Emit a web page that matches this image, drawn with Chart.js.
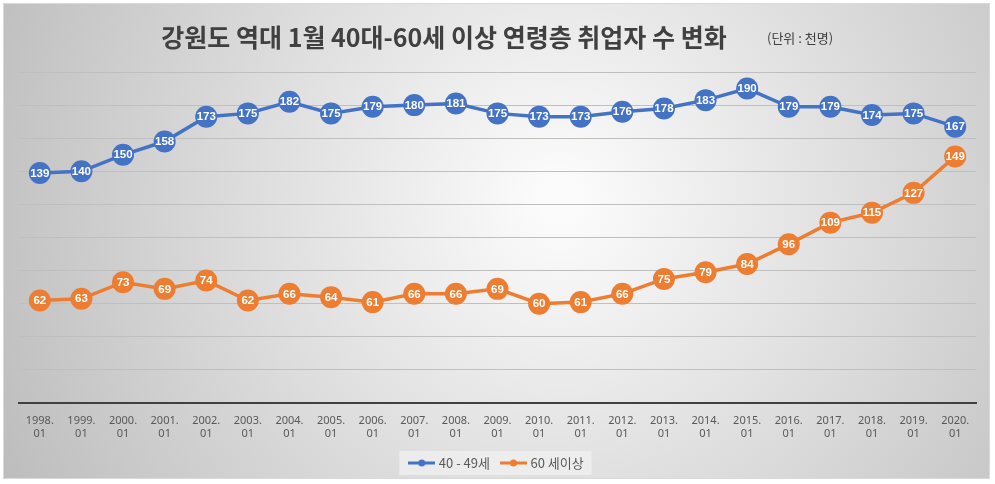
<!DOCTYPE html>
<html>
<head>
<meta charset="utf-8">
<script src="https://cdn.jsdelivr.net/npm/chart.js@4.4.1/dist/chart.umd.min.js"></script>
<style>
    html, body { margin: 0; padding: 0; background: #ffffff; }
    #wrap { width: 995px; height: 484px; }
</style>
</head>
<body>
<div id="wrap"><canvas id="chart"></canvas></div>
<script>
const years = ["1998", "1999", "2000", "2001", "2002", "2003", "2004", "2005", "2006", "2007", "2008", "2009",
    "2010", "2011", "2012", "2013", "2014", "2015", "2016", "2017", "2018", "2019", "2020"];
const age40s = [139, 140, 150, 158, 173, 175, 182, 175, 179, 180, 181, 175, 173, 173, 176, 178, 183, 190, 179, 179, 174, 175, 167];
const age60plus = [62, 63, 73, 69, 74, 62, 66, 64, 61, 66, 66, 69, 60, 61, 66, 75, 79, 84, 96, 109, 115, 127, 149];
const seriesNames = ["40 - 49세", "60 세이상"];
const titleText = "강원도 역대 1월 40대-60세 이상 연령층 취업자 수 변화";
const unitText = "(단위 : 천명)";

const BLUE = "#4472C4";
const ORANGE = "#ED7D31";

// legend symbol: short line with a dot
function legendIcon(color) {
    const c = document.createElement("canvas");
    c.width = 27;
    c.height = 10;
    const g = c.getContext("2d");
    g.strokeStyle = color;
    g.lineWidth = 3;
    g.beginPath();
    g.moveTo(0, 5);
    g.lineTo(27, 5);
    g.stroke();
    g.fillStyle = color;
    g.beginPath();
    g.arc(13.5, 5, 3.5, 0, Math.PI * 2);
    g.fill();
    return c;
}

const backgroundPlugin = {
    id: "bg",
    beforeDraw(chart) {
        const ctx = chart.ctx;
        ctx.save();
        ctx.fillStyle = "#ffffff";
        ctx.fillRect(0, 0, chart.width, chart.height);
        const grad = ctx.createRadialGradient(560, 200, 20, 560, 200, 620);
        grad.addColorStop(0, "#fbfbfb");
        grad.addColorStop(1, "#bdbdbd");
        ctx.fillStyle = grad;
        ctx.fillRect(3, 3, 987, 476);
        ctx.strokeStyle = "#d9d9d9";
        ctx.lineWidth = 1;
        ctx.strokeRect(3.5, 3.5, 986, 475);

        // title
        ctx.fillStyle = "#404040";
        ctx.textBaseline = "middle";
        ctx.textAlign = "center";
        ctx.font = "bold 25px 'Noto Sans CJK KR'";
        ctx.fillText(titleText, 444, 37);
        ctx.textAlign = "left";
        ctx.font = "13px 'Noto Sans CJK KR'";
        ctx.fillText(unitText, 767, 38);

        // legend box
        const lg = chart.legend;
        if (lg && lg.legendHitBoxes.length) {
            const boxes = lg.legendHitBoxes;
            const x0 = boxes[0].left - 12;
            const x1 = boxes[boxes.length - 1].left + boxes[boxes.length - 1].width + 8;
            const cy = boxes[0].top + boxes[0].height / 2;
            ctx.fillStyle = "rgba(240,240,240,0.75)";
            ctx.fillRect(x0, cy - 12, x1 - x0, 24);
        }
        ctx.restore();
    }
};

const labelPlugin = {
    id: "pointLabels",
    afterDatasetsDraw(chart) {
        const ctx = chart.ctx;
        ctx.save();
        ctx.fillStyle = "#ffffff";
        ctx.textAlign = "center";
        ctx.textBaseline = "middle";
        ctx.font = "bold 11.5px 'Liberation Sans'";
        chart.data.datasets.forEach((ds, i) => {
            const meta = chart.getDatasetMeta(i);
            meta.data.forEach((pt, j) => {
                ctx.fillText(String(ds.data[j]), pt.x, pt.y + 0.5);
            });
        });
        ctx.restore();
    }
};

new Chart(document.getElementById("chart"), {
    type: "line",
    data: {
        labels: years.map(y => [y + ".", "01"]),
        datasets: [
            {
                label: seriesNames[0],
                data: age40s,
                borderColor: BLUE,
                backgroundColor: BLUE,
                borderWidth: 3.5,
                pointRadius: 11,
                pointHoverRadius: 11,
                pointBorderWidth: 0,
                pointStyle: "circle",
                tension: 0
            },
            {
                label: seriesNames[1],
                data: age60plus,
                borderColor: ORANGE,
                backgroundColor: ORANGE,
                borderWidth: 3.5,
                pointRadius: 11,
                pointHoverRadius: 11,
                pointBorderWidth: 0,
                pointStyle: "circle",
                tension: 0
            }
        ]
    },
    options: {
        responsive: true,
        maintainAspectRatio: false,
        animation: false,
        layout: {
            padding: { top: 72, left: 19, right: 19, bottom: 4.5 }
        },
        scales: {
            x: {
                offset: true,
                grid: { display: false },
                border: { display: true, color: "#404040", width: 2 },
                ticks: {
                    color: "#595959",
                    font: { family: "'Noto Sans'", size: 11 },
                    padding: 3,
                    maxRotation: 0,
                    autoSkip: false
                }
            },
            y: {
                min: 0,
                max: 200,
                ticks: { display: false, stepSize: 20 },
                grid: { color: "#bfbfbf", lineWidth: 1, drawTicks: false },
                border: { display: false }
            }
        },
        plugins: {
            legend: {
                position: "bottom",
                labels: {
                    usePointStyle: true,
                    pointStyleWidth: 21,
                    color: "#595959",
                    font: { family: "'Noto Sans CJK KR'", size: 13 },
                    padding: 13,
                    generateLabels(chart) {
                        return chart.data.datasets.map((ds, i) => ({
                            text: ds.label,
                            pointStyle: legendIcon(ds.borderColor),
                            fillStyle: ds.borderColor,
                            strokeStyle: ds.borderColor,
                            fontColor: "#595959",
                            lineWidth: 0,
                            hidden: false,
                            datasetIndex: i
                        }));
                    }
                }
            },
            title: { display: false },
            tooltip: { enabled: false }
        }
    },
    plugins: [backgroundPlugin, labelPlugin]
});
</script>
</body>
</html>
